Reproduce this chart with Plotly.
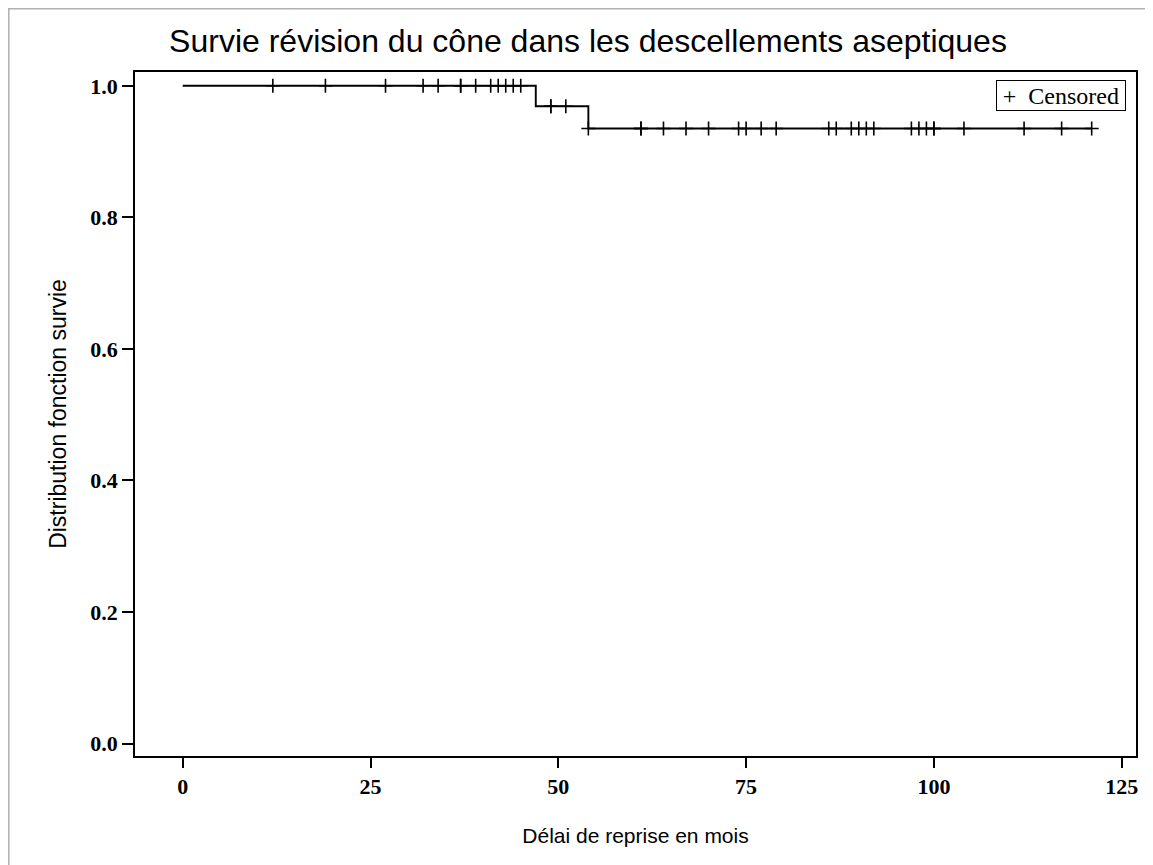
import plotly.graph_objects as go

# Kaplan-Meier step function (time in months, survival)
step_times = [0, 47, 54, 121]
step_surv = [1.0, 0.969, 0.935, 0.935]

# Censored observations (months)
censored_times = [12, 19, 27, 32, 34, 37, 37, 39, 41, 42, 43, 44, 45,
                  49, 49, 51,
                  54, 61, 61, 64, 67, 70, 74, 75, 77, 79, 86, 87, 89, 90,
                  91, 92, 97, 98, 99, 100, 100, 104, 112, 117, 121]

x_ticks = [0, 25, 50, 75, 100, 125]
y_ticks = [0.0, 0.2, 0.4, 0.6, 0.8, 1.0]


def surv_at(t):
    s = step_surv[0]
    for tt, ss in zip(step_times, step_surv):
        if t >= tt:
            s = ss
    return s


censored_surv = [surv_at(t) for t in censored_times]

fig = go.Figure()
fig.add_trace(go.Scatter(
    x=step_times, y=step_surv, mode="lines",
    line=dict(shape="hv", color="black", width=1.9),
    showlegend=False, hoverinfo="skip"))
fig.add_trace(go.Scatter(
    x=censored_times, y=censored_surv, mode="markers",
    name="Censored", showlegend=False,
    marker=dict(symbol="cross-thin", size=10,
                line=dict(color="black", width=1.6), color="black")))

OFF = 8  # page body margin
W, H = 1153 - OFF, 865 - OFF
L, R, T, B = 135 - OFF, 1153 - 1136, 72 - OFF, 865 - 756
pw, ph = W - L - R, H - T - B


def px_x(p):
    return (p - OFF - L) / pw


def px_y(p):
    return (H - B - (p - OFF)) / ph


fig.add_shape(type="rect", xref="paper", yref="paper",
              x0=px_x(8.8), x1=px_x(1148), y0=px_y(880), y1=px_y(8.8),
              line=dict(color="#b0b0b0", width=1.5), layer="below")

# legend box
fig.add_annotation(xref="paper", yref="paper", x=px_x(1126), y=px_y(80),
                   xanchor="right", yanchor="top", showarrow=False,
                   text="\u2009+\u2002Censored", align="left",
                   width=126, height=27, borderpad=1,
                   bordercolor="black", borderwidth=1, bgcolor="white",
                   font=dict(family="Liberation Serif", size=24, color="black"))

fig.update_layout(
    width=W, height=H,
    margin=dict(l=L, r=R, t=T, b=B),
    paper_bgcolor="white", plot_bgcolor="white",
    showlegend=False,
    title=dict(text="Survie révision du cône dans les descellements aseptiques",
               font=dict(family="Liberation Sans", size=32, color="black"),
               x=(588 - OFF) / W, xanchor="center", xref="container",
               y=1 - (41 - OFF) / H, yanchor="middle", yref="container"),
    xaxis=dict(range=[-6.35, 126.9], tickvals=x_ticks,
               ticks="outside", ticklen=10, tickwidth=1.5, tickcolor="black",
               showline=True, linecolor="black", linewidth=1.5, mirror=True,
               showgrid=False, zeroline=False,
               tickfont=dict(family="Liberation Serif", size=22, color="black",
                             weight="bold"),
               title=dict(text="Délai de reprise en mois",
                          font=dict(family="Liberation Sans", size=21, color="black"),
                          standoff=30)),
    yaxis=dict(range=[-0.019, 1.021], tickvals=y_ticks, tickformat=".1f",
               ticks="outside", ticklen=11, tickwidth=1.5, tickcolor="black",
               showline=True, linecolor="black", linewidth=1.5, mirror=True,
               showgrid=False, zeroline=False,
               tickfont=dict(family="Liberation Serif", size=22, color="black",
                             weight="bold"),
               title=dict(text="Distribution fonction survie",
                          font=dict(family="Liberation Sans", size=23, color="black"),
                          standoff=17)),
)

fig.write_html("out.html")
